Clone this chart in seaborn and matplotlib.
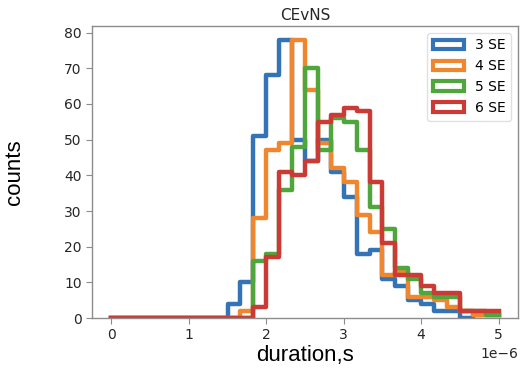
import numpy as np
import pandas as pd
import matplotlib
matplotlib.use("Agg")
import matplotlib.pyplot as plt
import seaborn as sns
from matplotlib.patches import Patch

# bin edges: 30 bins from 0 to 5e-6 s
n_bins = 30
x_max = 5e-6

labels = ["3 SE", "4 SE", "5 SE", "6 SE"]
colors = ["#3274b5", "#f0872e", "#4ea63c", "#cb3a34"]

# counts for bins 9..29 (earlier bins are zero)
counts_3se = [4, 10, 51, 68, 78, 50, 44, 50, 41, 34, 18, 19, 11, 9, 5, 4, 2, 2, 0, 1, 1]
counts_4se = [0, 2, 28, 47, 49, 78, 64, 49, 42, 38, 29, 24, 12, 13, 6, 6, 5, 3, 2, 1, 1]
counts_5se = [0, 0, 16, 18, 36, 48, 70, 47, 56, 55, 47, 31, 25, 14, 11, 7, 6, 6, 2, 2, 1]
counts_6se = [0, 0, 3, 17, 41, 40, 44, 55, 57, 59, 58, 38, 21, 12, 12, 9, 7, 7, 2, 2, 2]
first_bin = 9

edges = np.linspace(0, x_max, n_bins + 1)
centers = (edges[:-1] + edges[1:]) / 2

fig = plt.figure(figsize=(5.2, 3.69), dpi=100)
ax = fig.add_axes([0.177, 0.138, 0.819, 0.792])

spine_col = "#8c8c8c"
for lab, col, cnt in zip(labels, colors, [counts_3se, counts_4se, counts_5se, counts_6se]):
    full = np.zeros(n_bins)
    full[first_bin:first_bin + len(cnt)] = cnt
    df = pd.DataFrame({"x": centers, "w": full})
    sns.histplot(data=df, x="x", weights="w", bins=n_bins, binrange=(0, x_max),
                 element="step", fill=False, color=col, linewidth=3.2, ax=ax)

ax.set_xlim(-0.25e-6, 5.25e-6)
ax.set_ylim(0, 81.9)
ax.set_yticks(range(0, 81, 10))
ax.set_xticks(np.arange(0, 5.01e-6, 1e-6))

ax.set_title("CEvNS", fontsize=11, color="#262626", pad=4)
ax.set_xlabel("duration,s", fontsize=16, family="Liberation Sans", labelpad=2)
ax.set_ylabel("counts", fontsize=16, family="Liberation Sans", labelpad=28)

for s in ax.spines.values():
    s.set_color(spine_col)
    s.set_linewidth(1)
ax.tick_params(colors=spine_col, labelcolor="#262626", labelsize=10, length=4)
ax.xaxis.get_offset_text().set_fontsize(10)
ax.xaxis.get_offset_text().set_color("#262626")

handles = [Patch(facecolor="none", edgecolor=c, linewidth=3) for c in colors]
ax.legend(handles, labels, loc="upper right", fontsize=10, handlelength=2.2,
          frameon=True, edgecolor="#d9d9d9")

fig.savefig("out.png", dpi=100)
